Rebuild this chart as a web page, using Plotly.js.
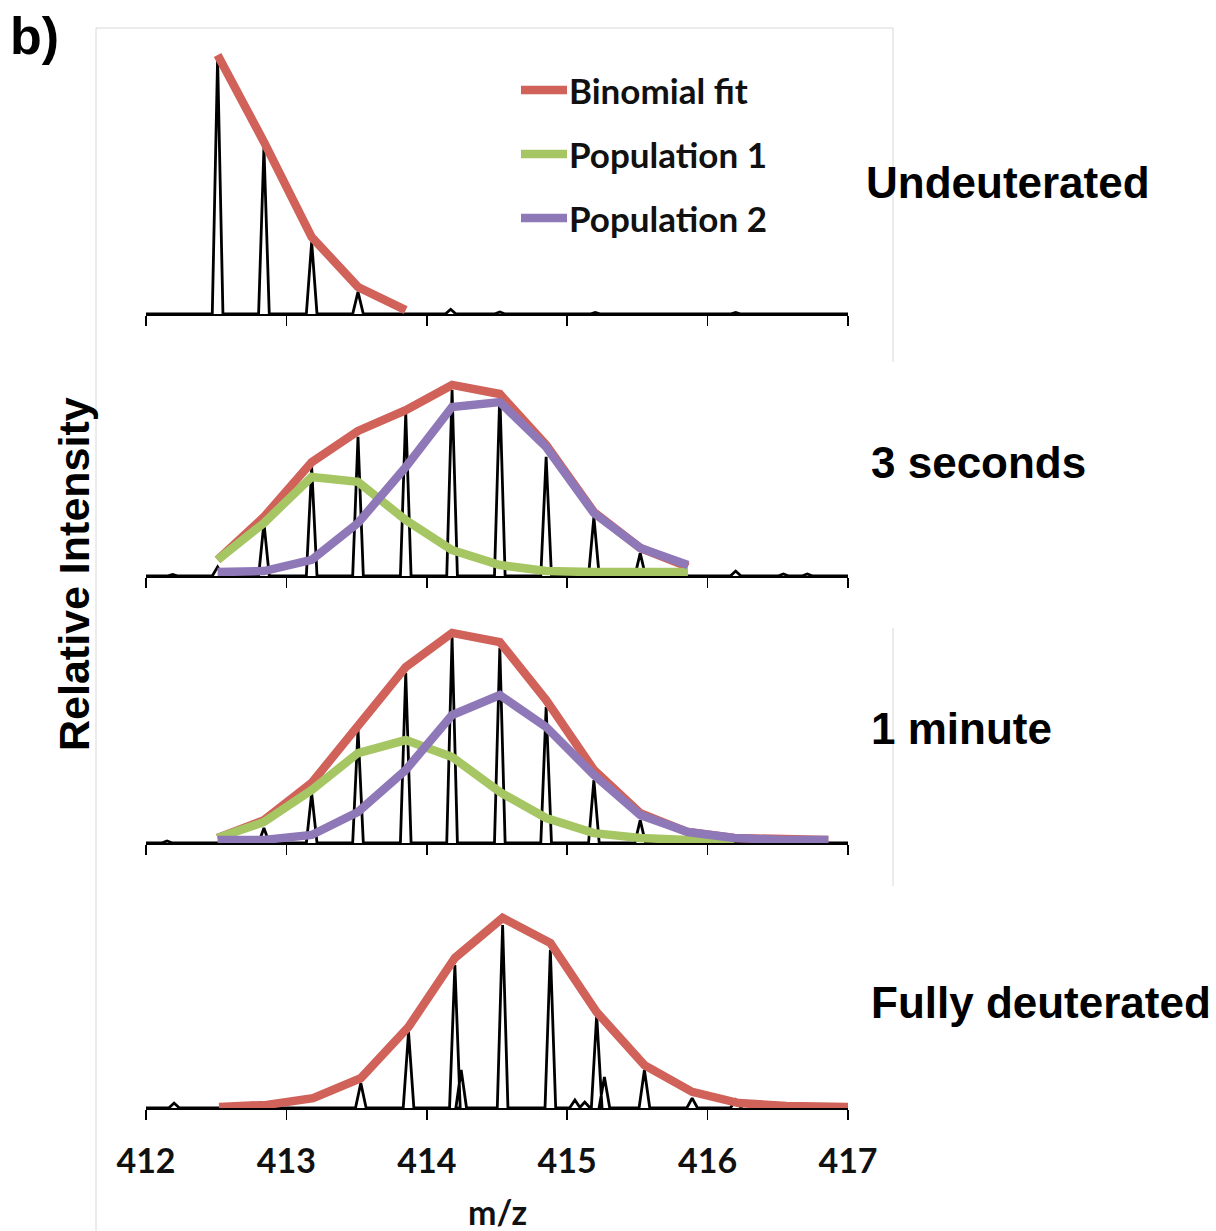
<!DOCTYPE html>
<html>
<head>
<meta charset="utf-8">
<script src="https://cdn.plot.ly/plotly-3.0.1.min.js"></script>
<style>html,body{margin:0;padding:0;background:#fff;}#chart{width:1216px;height:1231px;}</style>
</head>
<body>
<div id="chart"></div>
<script>
// ---------------- data ----------------
const xTicks = [412, 413, 414, 415, 416, 417];
const seriesNames = ['Binomial fit', 'Population 1', 'Population 2'];
const panelLabels = ['Undeuterated', '3 seconds', '1 minute', 'Fully deuterated'];

// isotope envelope positions (m/z) used by the fitted curves
const fitMz = [412.51, 412.84, 413.18, 413.51, 413.85, 414.18, 414.52, 414.85, 415.19, 415.52, 415.86, 416.19, 416.53, 416.86];
const fitMzFull = [412.52, 412.86, 413.19, 413.53, 413.87, 414.20, 414.54, 414.88, 415.21, 415.55, 415.89, 416.22, 416.56, 416.90, 417.00];

// Undeuterated
const undeutPeakMz = [412.51, 412.84, 413.18, 413.51, 414.17, 414.52, 415.20, 416.20];
const undeutPeakInt = [98.5, 64.2, 27.7, 8.5, 1.8, 0.8, 0.6, 0.6];
const undeutFit = [99.6, 66.2, 29.6, 10.4, 1.5];

// 3 seconds
const sec3PeakMz = [412.19, 412.51, 412.84, 413.18, 413.51, 413.85, 414.18, 414.52, 414.85, 415.19, 415.52, 416.20, 416.54, 416.71];
const sec3PeakInt = [0.6, 3.5, 20.4, 41.9, 53.5, 62.7, 71.5, 70.4, 45.8, 22.7, 8.8, 1.9, 0.8, 0.8];
const sec3Fit = [6.2, 22.7, 43.8, 55.8, 63.8, 73.5, 70.0, 50.4, 24.6, 10.8, 3.5];
const sec3Pop1 = [6.2, 20.4, 38.1, 36.2, 21.5, 10.0, 4.2, 1.9, 1.5, 1.5, 1.5];
const sec3Pop2 = [1.5, 1.9, 6.2, 20.4, 41.9, 65.0, 66.9, 49.6, 24.2, 10.8, 4.2];

// 1 minute
const min1PeakMz = [412.15, 412.84, 413.18, 413.51, 413.85, 414.18, 414.52, 414.85, 415.19, 415.52];
const min1PeakInt = [0.8, 5.8, 19.2, 43.5, 65.4, 79.2, 75.0, 52.3, 24.2, 8.8];
const min1Fit = [1.9, 8.8, 23.1, 44.6, 67.7, 80.8, 77.3, 55.0, 28.1, 11.5, 4.2, 1.9, 1.2, 1.2];
const min1Pop1 = [1.9, 8.1, 20.4, 34.6, 39.6, 33.1, 19.6, 9.6, 3.8, 1.9, 1.2, 1.2];
const min1Pop2 = [1.2, 1.2, 3.1, 11.9, 28.1, 49.2, 56.9, 44.6, 26.2, 10.8, 4.2, 1.9, 1.2, 1.2];

// Fully deuterated
const fullPeakMz = [412.20, 413.53, 413.87, 414.20, 414.245, 414.54, 414.88, 415.055, 415.125, 415.21, 415.265, 415.55, 415.89, 416.20, 416.27];
const fullPeakInt = [1.9, 9.6, 29.2, 55.0, 14.6, 70.4, 60.8, 3.1, 2.3, 35.8, 11.9, 14.6, 3.8, 3.1, 1.9];
const fullFit = [0.4, 1.2, 3.8, 11.5, 31.2, 57.7, 73.1, 63.5, 36.9, 16.5, 6.2, 1.9, 0.8, 0.4, 0.4];

// ---------------- styling / layout helpers ----------------
const W = 1216, H = 1231, ML = 146, MR = 368;
const PW = W - ML - MR;
const xp = px => (px - ML) / PW;
const yp = py => 1 - py / H;
const C_RED = '#D0625A', C_GREEN = '#A5C663', C_PURPLE = '#8F78B8';
const LW = 8.5;
const axisPx = [314, 576, 843, 1108];
const pxPerUnit = 2.6, yMax = 106;
const halfW = 0.038;

function spectrum(mz, inten) {
  const x = [xTicks[0]], y = [0];
  mz.forEach((m, i) => { x.push(m - halfW, m, m + halfW); y.push(0, inten[i], 0); });
  x.push(xTicks[xTicks.length - 1]); y.push(0);
  return {x, y};
}

const panels = [
  {peaks: [undeutPeakMz, undeutPeakInt], fitX: fitMz, fit: undeutFit},
  {peaks: [sec3PeakMz, sec3PeakInt], fitX: fitMz, fit: sec3Fit, p1: sec3Pop1, p2: sec3Pop2},
  {peaks: [min1PeakMz, min1PeakInt], fitX: fitMz, fit: min1Fit, p1: min1Pop1, p2: min1Pop2},
  {peaks: [fullPeakMz, fullPeakInt], fitX: fitMzFull, fit: fullFit}
];

const traces = [];
const layout = {
  width: W, height: H,
  margin: {l: ML, r: MR, t: 0, b: 0},
  paper_bgcolor: '#fff', plot_bgcolor: 'rgba(0,0,0,0)',
  showlegend: false,
  annotations: [], shapes: []
};

panels.forEach((p, i) => {
  const n = i === 0 ? '' : String(i + 1);
  const xa = 'x' + n, ya = 'y' + n;
  const s = spectrum(p.peaks[0], p.peaks[1]);
  traces.push({x: s.x, y: s.y, xaxis: xa, yaxis: ya, type: 'scatter', mode: 'lines',
    line: {color: '#000', width: 2.8}, hoverinfo: 'skip'});
  traces.push({x: p.fitX.slice(0, p.fit.length), y: p.fit, xaxis: xa, yaxis: ya, type: 'scatter', mode: 'lines',
    name: seriesNames[0], line: {color: C_RED, width: LW}});
  if (p.p1) traces.push({x: p.fitX.slice(0, p.p1.length), y: p.p1, xaxis: xa, yaxis: ya, type: 'scatter', mode: 'lines',
    name: seriesNames[1], line: {color: C_GREEN, width: LW}});
  if (p.p2) traces.push({x: p.fitX.slice(0, p.p2.length), y: p.p2, xaxis: xa, yaxis: ya, type: 'scatter', mode: 'lines',
    name: seriesNames[2], line: {color: C_PURPLE, width: LW}});

  const bottom = axisPx[i], top = axisPx[i] - yMax * pxPerUnit;
  layout['xaxis' + n] = {
    anchor: ya, domain: [0, 1], range: [xTicks[0], xTicks[xTicks.length - 1]],
    tickvals: xTicks, ticktext: xTicks.map(String),
    showticklabels: i === 3, ticks: 'outside', ticklen: 10, tickwidth: 1.5, tickcolor: '#000',
    showline: true, linecolor: '#000', linewidth: 2,
    showgrid: false, zeroline: false, ticklabelstandoff: 12,
    tickfont: {family: 'Lato', size: 34, color: '#111', weight: 700}
  };
  layout['yaxis' + n] = {
    anchor: xa, domain: [yp(bottom), yp(top)], range: [0, yMax],
    visible: false, showgrid: false, zeroline: false
  };
});

// panel labels
const labelPos = [[864, 182], [869, 463], [869, 728], [869, 1002]];
panelLabels.forEach((t, i) => {
  layout.annotations.push({text: '<b>' + t + '</b>', xref: 'paper', yref: 'paper',
    x: xp(labelPos[i][0]), y: yp(labelPos[i][1]), xanchor: 'left', yanchor: 'middle', showarrow: false,
    font: {family: 'Liberation Sans', size: 44, color: '#000'}});
});

// legend (drawn manually)
const legY = [90, 154, 218], legC = [C_RED, C_GREEN, C_PURPLE];
seriesNames.forEach((t, i) => {
  layout.shapes.push({type: 'line', xref: 'paper', yref: 'paper', x0: xp(521), x1: xp(567), y0: yp(legY[i]), y1: yp(legY[i]),
    line: {color: legC[i], width: LW}});
  layout.annotations.push({text: '<b>' + t + '</b>', xref: 'paper', yref: 'paper', x: xp(567), y: yp(legY[i]),
    xanchor: 'left', yanchor: 'middle', showarrow: false, font: {family: 'Lato', size: 35, color: '#111'}});
});

// axis titles and panel tag
layout.annotations.push({text: '<b>m/z</b>', xref: 'paper', yref: 'paper', x: xp(497), y: yp(1211),
  xanchor: 'center', yanchor: 'middle', showarrow: false, font: {family: 'Lato', size: 34, color: '#111'}});
layout.annotations.push({text: '<b>Relative Intensity</b>', xref: 'paper', yref: 'paper', x: xp(74), y: yp(574),
  xanchor: 'center', yanchor: 'middle', textangle: -90, showarrow: false, font: {family: 'Liberation Sans', size: 43, color: '#000'}});
layout.annotations.push({text: '<b>b)</b>', xref: 'paper', yref: 'paper', x: xp(8), y: yp(36),
  xanchor: 'left', yanchor: 'middle', showarrow: false, font: {family: 'Liberation Sans', size: 52, color: '#000'}});

// faint frame of the pasted panels
const frameC = '#d8d8d8';
[[96, 28, 96, 1231], [96, 28, 893, 28], [893, 28, 893, 362], [893, 628, 893, 886]].forEach(l => {
  layout.shapes.push({type: 'line', xref: 'paper', yref: 'paper', x0: xp(l[0]), y0: yp(l[1]), x1: xp(l[2]), y1: yp(l[3]),
    line: {color: frameC, width: 1}, layer: 'below'});
});

Plotly.newPlot('chart', traces, layout, {staticPlot: true, displayModeBar: false});
</script>
</body>
</html>
